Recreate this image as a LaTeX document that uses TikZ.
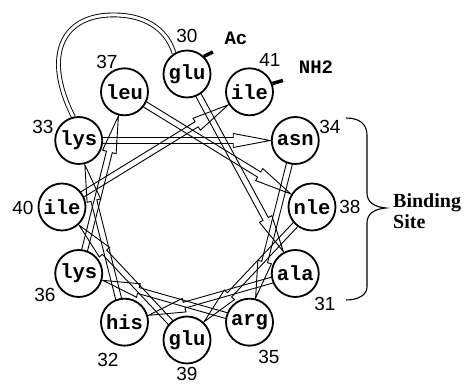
\documentclass[tikz,border=0pt]{standalone}
\usepackage{fontspec}
\setmainfont{Liberation Serif}
\setsansfont{Liberation Sans}
\setmonofont{Liberation Mono}
\usetikzlibrary{calc,backgrounds}
\newcommand{\hxarrow}[2]{%
\draw[helixarrow] ($(#1)!20pt!(#2)!3pt!90:(#2)$)
 -- ($(#2)!62pt!(#1)!3pt!-90:(#1)$)
 -- ($(#2)!62pt!(#1)!7pt!-90:(#1)$)
 -- ($(#2)!25pt!(#1)$)
 -- ($(#2)!62pt!(#1)!7pt!90:(#1)$)
 -- ($(#2)!62pt!(#1)!3pt!90:(#1)$)
 -- ($(#1)!20pt!(#2)!3pt!-90:(#2)$) -- cycle;}
\begin{document}
\begin{tikzpicture}[x=1pt,y=1pt,
  res/.style={circle, draw, line width=1.8pt, fill=white, minimum size=47pt, inner sep=0pt,
    font=\ttfamily\bfseries\fontsize{20.5}{20.5}\selectfont},
  num/.style={font=\sffamily\fontsize{19}{19}\selectfont, inner sep=0pt},
  term/.style={font=\ttfamily\bfseries\fontsize{19}{19}\selectfont, inner sep=0pt},
  helixarrow/.style={draw, line width=0.9pt, line join=miter},
  tick/.style={line width=3.5pt},
  loopline/.style={double, double distance=3pt, line width=0.9pt},
  bracestyle/.style={line width=1.1pt}]
\useasboundingbox (0,0) rectangle (467,385);
\foreach \n/\name/\a in {30/glu/90, 41/ile/60, 34/asn/30, 38/nle/0, 31/ala/-30, 35/arg/-60,
  39/glu/-90, 32/his/-120, 36/lys/-150, 40/ile/180, 33/lys/150, 37/leu/120}
  \node[res] (r\n) at ({187+125*cos(\a)},{178+133*sin(\a)}) {\name};
\begin{scope}[on background layer]
\foreach \i [evaluate=\i as \j using int(\i+1)] in {30,...,40} {\hxarrow{r\i}{r\j}}
\draw[loopline] (r33.103) .. controls (42,330) and (62,372) .. (117,370)
  .. controls (150,369) and (168,352) .. (r30.122);
\end{scope}
% residue numbers
\node[num] (n30) at (187,349) {30};
\node[num] (n37) at (107,323) {37};
\node[num] (n33) at (43,258) {33};
\node[num] (n40) at (23,177) {40};
\node[num] (n36) at (45,90) {36};
\node[num] (n32) at (108,25) {32};
\node[num] (n39) at (187,11) {39};
\node[num] (n35) at (269,28) {35};
\node[num] (n31) at (325,81) {31};
\node[num] (n38) at (350,178) {38};
\node[num] (n34) at (330,258) {34};
\node[num] (n41) at (270,325) {41};
% termini
\node[term] (ac) at (236,347) {Ac};
\node[term] (nh2) at (316,318) {NH2};
\draw[tick] (r30.46) -- ++(27:10);
\draw[tick] (r41.20) -- ++(16:11);
% brace
\draw[bracestyle] (346,267) .. controls (358,267) and (367,262) .. (367,250) -- (367,192)
  .. controls (367,183) and (374,178) .. (386,177)
  .. controls (374,176) and (367,171) .. (367,162) -- (367,98)
  .. controls (367,90) and (358,85) .. (346,85);
\node[anchor=west, align=left, inner sep=0pt,
  font=\rmfamily\bfseries\fontsize{20}{21}\selectfont] (bs) at (393,174) {Binding\\Site};
\end{tikzpicture}
\end{document}
